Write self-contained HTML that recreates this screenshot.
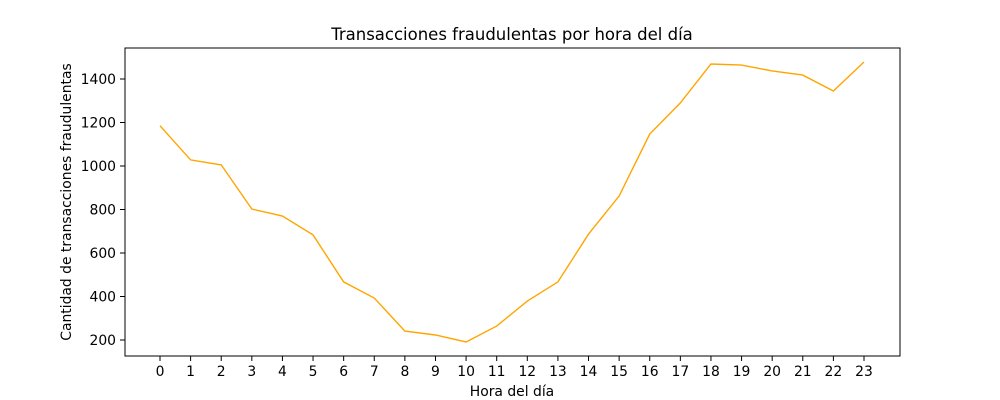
<!DOCTYPE html>
<html><head><meta charset="utf-8"><style>
body{margin:0;background:#fff;}
svg{display:block;font-family:"DejaVu Sans","Liberation Sans",sans-serif;}
</style></head><body>
<svg id="chart" width="1000" height="400">
<text x="512" y="40" font-size="16.5" text-anchor="middle">Transacciones fraudulentas por hora del día</text>
<g id="xt"></g><g id="yt"></g>
<path id="line" fill="none" stroke="#ffa500" stroke-width="1.4"/>
<rect x="125" y="48" width="775" height="308" fill="none" stroke="#000" stroke-width="1"/>
<text x="512" y="396" font-size="13.9" text-anchor="middle">Hora del día</text>
<text transform="translate(71,202) rotate(-90)" font-size="13.9" text-anchor="middle">Cantidad de transacciones fraudulentas</text>
</svg>
<script>
const hours=[0,1,2,3,4,5,6,7,8,9,10,11,12,13,14,15,16,17,18,19,20,21,22,23];
const counts=[1185,1028,1005,802,770,683,467,393,241,223,191,264,379,467,687,862,1147,1290,1469,1464,1437,1418,1345,1478];
const yTicks=[200,400,600,800,1000,1200,1400];
const ns="http://www.w3.org/2000/svg";
const xS=h=>160+h*(864-160)/23;
const yS=v=>340-(v-200)*(261/1200);
const xt=document.getElementById('xt'),yt=document.getElementById('yt');
hours.forEach(h=>{
 const l=document.createElementNS(ns,'line');
 l.setAttribute('x1',xS(h));l.setAttribute('x2',xS(h));l.setAttribute('y1',356);l.setAttribute('y2',361);l.setAttribute('stroke','#000');
 
 
 xt.appendChild(l);
 const t=document.createElementNS(ns,'text');
 t.setAttribute('x',xS(h));t.setAttribute('y',376);t.setAttribute('font-size','13.9');t.setAttribute('text-anchor','middle');t.textContent=h;
 
 
 xt.appendChild(t);
});
yTicks.forEach(v=>{
 const l=document.createElementNS(ns,'line');
 l.setAttribute('x1',120);l.setAttribute('x2',125);l.setAttribute('y1',yS(v));l.setAttribute('y2',yS(v));l.setAttribute('stroke','#000');
 
 
 yt.appendChild(l);
 const t=document.createElementNS(ns,'text');
 t.setAttribute('x',116);t.setAttribute('y',yS(v)+5);t.setAttribute('font-size','13.9');t.setAttribute('text-anchor','end');t.textContent=v;
 
 
 yt.appendChild(t);
});
document.getElementById('line').setAttribute('d',hours.map((h,i)=>(i?'L':'M')+xS(h)+','+yS(counts[i])).join(' '));
</script>
</body></html>
